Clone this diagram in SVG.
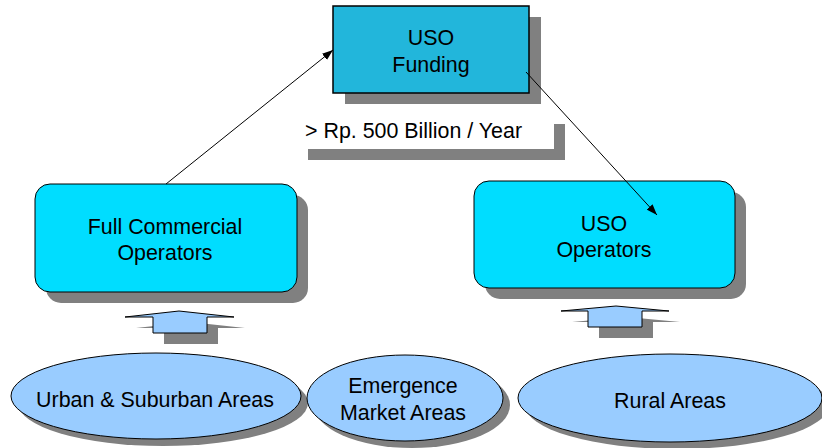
<svg xmlns="http://www.w3.org/2000/svg" width="822" height="448" viewBox="0 0 822 448">
<defs>
<style>
text{font-family:"Liberation Sans",Arial,sans-serif;font-size:21.4px;fill:#000;}
.c{text-anchor:middle;}
.sh{fill:#808080;stroke:none;}
.box{fill:#00DDFF;stroke:#000;stroke-width:1;}
.ell{fill:#99CCFF;stroke:#000;stroke-width:1;}
.blk{fill:#99CCFF;stroke:#000;stroke-width:1;}
.con{stroke:#000;stroke-width:1;fill:none;marker-end:url(#ah);}
</style>
<marker id="ah" markerUnits="userSpaceOnUse" markerWidth="11" markerHeight="8" refX="11" refY="4" orient="auto">
<path d="M0,0 L11,4 L0,8 z" fill="#000"/>
</marker>
</defs>
<rect width="822" height="448" fill="#fff"/>

<g id="uso-funding">
<rect class="sh" x="345" y="17" width="196" height="87"/>
<rect x="333" y="6" width="196" height="87" fill="#22B6DB" stroke="#000" stroke-width="1.5"/>
<text class="c" x="431" y="45">USO</text>
<text class="c" x="431" y="72">Funding</text>
</g>

<g id="label">
<rect class="sh" x="308" y="124" width="257" height="36"/>
<rect x="297" y="113" width="257" height="36" fill="#fff"/>
<text x="305" y="138">&gt; Rp. 500 Billion / Year</text>
</g>

<g id="full-commercial">
<rect class="sh" x="46" y="195" width="262" height="108" rx="15"/>
<rect class="box" x="35" y="184" width="262" height="108" rx="15"/>
<text class="c" x="165" y="234">Full Commercial</text>
<text class="c" x="165" y="260">Operators</text>
</g>

<g id="uso-operators">
<rect class="sh" x="485" y="192" width="261" height="107" rx="15"/>
<rect class="box" x="474" y="181" width="261" height="107" rx="15"/>
<text class="c" x="604" y="231">USO</text>
<text class="c" x="604" y="257">Operators</text>
</g>

<g id="up-arrow-left">
<polygon class="sh" points="136,328 190,322 245,328 218,328 218,344 164,344 164,328"/>
<polygon class="blk" points="125,317 179,311 234,317 207,317 207,333 153,333 153,317"/>
</g>

<g id="up-arrow-right">
<polygon class="sh" points="572,322 627,317 680,322 653,322 653,338 599,338 599,322"/>
<polygon class="blk" points="561,311 616,306 669,311 642,311 642,327 588,327 588,311"/>
</g>

<g id="urban">
<ellipse class="sh" cx="163" cy="403" rx="145" ry="43"/>
<ellipse class="ell" cx="156" cy="396" rx="145" ry="43"/>
<text class="c" x="155" y="407">Urban &amp; Suburban Areas</text>
</g>

<g id="emergence">
<ellipse class="sh" cx="412" cy="405" rx="98" ry="43"/>
<ellipse class="ell" cx="405" cy="398" rx="98" ry="43"/>
<text class="c" x="403" y="393">Emergence</text>
<text class="c" x="403" y="420">Market Areas</text>
</g>

<g id="rural">
<ellipse class="sh" cx="677" cy="405" rx="152" ry="44"/>
<ellipse class="ell" cx="670" cy="398" rx="152" ry="44"/>
<text class="c" x="670" y="408">Rural Areas</text>
</g>

<g id="connectors">
<line class="con" x1="166" y1="184" x2="333" y2="50"/>
<line class="con" x1="526" y1="72" x2="657" y2="215"/>
</g>
</svg>
